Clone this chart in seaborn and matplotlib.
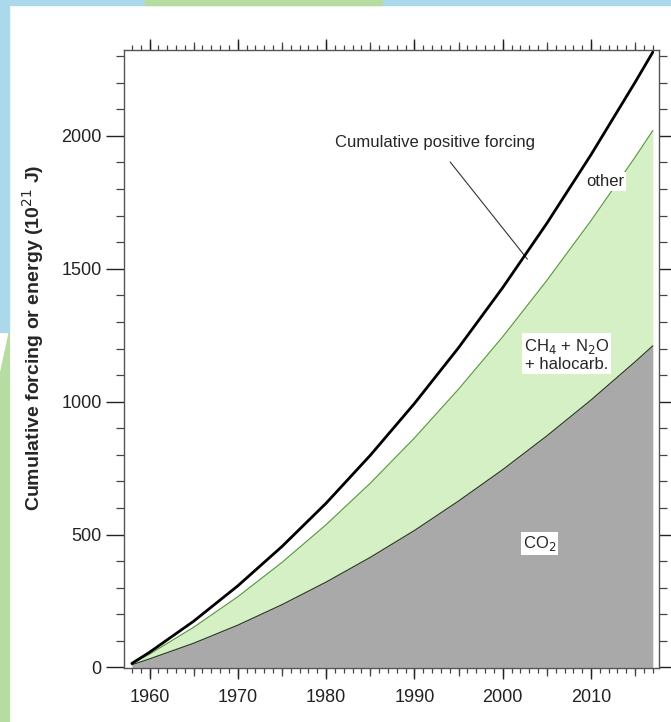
import numpy as np
import pandas as pd
import matplotlib.pyplot as plt
import matplotlib.patches as mpatches
from matplotlib.ticker import MultipleLocator, NullFormatter
import seaborn as sns

# values (10^21 J)
years = [1958, 1960, 1965, 1970, 1975, 1980, 1985, 1990, 1995, 2000, 2005, 2010, 2015, 2017]
co2 = [10, 32, 91, 159, 236, 321, 414, 515, 626, 744, 871, 1006, 1150, 1210]
co2_ch4_n2o_halo = [14, 50, 151, 266, 395, 537, 693, 863, 1047, 1244, 1456, 1681, 1920, 2020]
total_positive = [15, 57, 174, 307, 455, 618, 798, 993, 1203, 1429, 1671, 1929, 2202, 2315]

df = pd.DataFrame({'year': years, 'co2': co2, 'ghg': co2_ch4_n2o_halo, 'total': total_positive})

sns.set_theme(style='ticks')
plt.rcParams['font.family'] = ['Liberation Sans', 'DejaVu Sans']

fig = plt.figure(figsize=(6.71, 7.22), dpi=100)
ax = fig.add_axes([0.1848, 0.0741, 0.7973, 0.8566])

# decorative strips of the page behind the chart
fig.patches.append(mpatches.Rectangle((0, 0.993), 1, 0.007, transform=fig.transFigure, color='#a9d9ea', zorder=-5))
fig.patches.append(mpatches.Rectangle((0.216, 0.993), 0.353, 0.007, transform=fig.transFigure, color='#b6dca2', zorder=-4))
fig.patches.append(mpatches.Rectangle((0, 0.54), 0.014, 0.46, transform=fig.transFigure, color='#a9d9ea', zorder=-5))
fig.patches.append(mpatches.Polygon([(0, 0), (0.014, 0), (0.014, 0.54), (0, 0.48)], closed=True,
                                    transform=fig.transFigure, color='#b6dca2', zorder=-5))

# stacked areas
ax.fill_between(df['year'], 0, df['co2'], color='#a9a9a9', lw=0, zorder=1)
ax.fill_between(df['year'], df['co2'], df['ghg'], color='#d6f0c6', lw=0, zorder=1)
ax.fill_between(df['year'], df['ghg'], df['total'], color='white', lw=0, zorder=1)

sns.lineplot(data=df, x='year', y='co2', ax=ax, color='#2f3a2a', lw=0.9, zorder=3)
sns.lineplot(data=df, x='year', y='ghg', ax=ax, color='#5d9c3f', lw=0.9, zorder=3)
sns.lineplot(data=df, x='year', y='total', ax=ax, color='black', lw=2.0, zorder=4)

ax.set_xlim(1957.11, 2017.7)
ax.set_ylim(-4, 2323)

ax.xaxis.set_major_locator(MultipleLocator(10))
ax.xaxis.set_minor_locator(MultipleLocator(1))
ax.yaxis.set_major_locator(MultipleLocator(500))
ax.yaxis.set_minor_locator(MultipleLocator(100))
ax.tick_params(axis='x', which='major', direction='out', length=8, width=1, top=True, bottom=True,
               labelsize=13, pad=7, colors='#222222')
ax.tick_params(axis='x', which='minor', direction='out', length=3.5, width=0.9, top=True, bottom=True, colors='#444444')
ax.tick_params(axis='y', which='major', direction='out', length=13, width=1, left=True, right=True,
               labelsize=13, pad=3, colors='#222222')
ax.tick_params(axis='y', which='minor', direction='out', length=6, width=0.9, left=True, right=True, colors='#444444')
for s in ax.spines.values():
    s.set_color('#555555')
    s.set_linewidth(1.0)

# medium ticks every 5 years
for side in ['top', 'bottom']:
    sec = ax.secondary_xaxis(side)
    sec.xaxis.set_major_locator(MultipleLocator(5))
    sec.xaxis.set_major_formatter(NullFormatter())
    sec.tick_params(axis='x', direction='out', length=5.5, width=0.9, colors='#444444')
    sec.spines[side].set_visible(False)

ax.set_xlabel('')
ax.set_ylabel('Cumulative forcing or energy (10$^{21}$ J)', fontsize=14, fontweight='bold')
ax.yaxis.set_label_coords(-0.145, 0.535)

# labels
ax.annotate('Cumulative positive forcing', xy=(2002.8, 1536), xytext=(1992.3, 1975),
            ha='center', va='center', fontsize=12,
            arrowprops=dict(arrowstyle='-', color='#333333', lw=0.8, shrinkA=8, shrinkB=0))
box = dict(facecolor='white', edgecolor='none', pad=1.5)
ax.text(2011.6, 1829, 'other', ha='center', va='center', fontsize=12, bbox=box, zorder=5)
ax.text(2007.2, 1178, 'CH$_4$ + N$_2$O\n+ halocarb.', ha='center', va='center', fontsize=12,
        linespacing=1.1, bbox=box, zorder=5)
ax.text(2004.2, 465, 'CO$_2$', ha='center', va='center', fontsize=12, bbox=box, zorder=5)

fig.savefig('out.png', dpi=100)
